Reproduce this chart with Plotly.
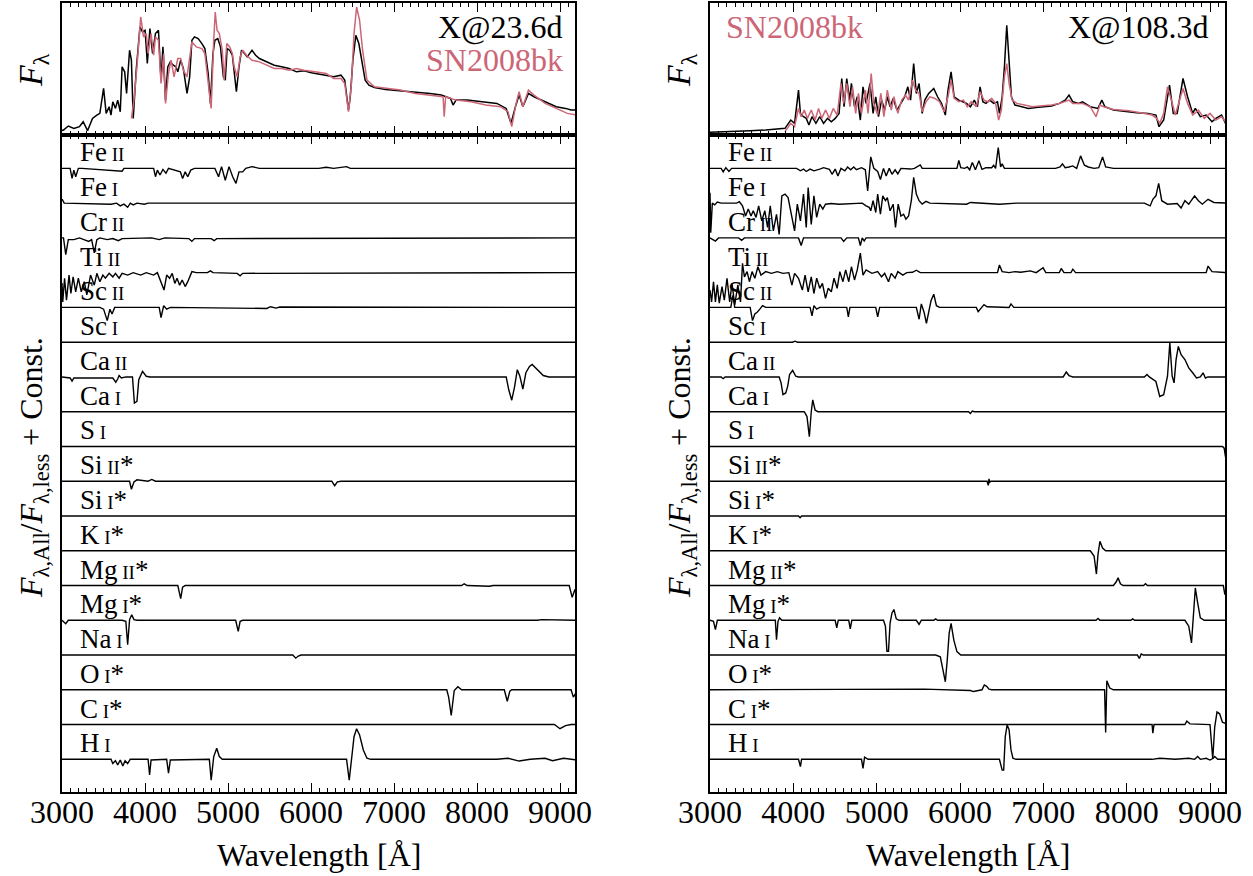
import plotly.graph_objects as go

# ---------------------------------------------------------------- data
# Top panels: model spectrum vs. observed SN 2008bk (wavelength [A], flux, arbitrary units)
MODEL_23D = [(3000, 8), (3018, 10), (3076, 22), (3143, 15), (3210, 20), (3255, 35), (3308, 8), (3367, 45),
             (3420, 55), (3456, 60), (3501, 135), (3532, 60), (3568, 80), (3590, 55), (3612, 95), (3644, 75),
             (3671, 100), (3702, 65), (3724, 200), (3755, 185), (3778, 120), (3814, 250), (3836, 220),
             (3858, 45), (3894, 190), (3939, 320), (3970, 305), (4001, 310), (4028, 210), (4059, 315),
             (4091, 240), (4126, 300), (4162, 310), (4193, 160), (4216, 260), (4247, 100), (4274, 200),
             (4305, 215), (4341, 205), (4372, 200), (4395, 185), (4430, 220), (4462, 195), (4506, 120),
             (4538, 170), (4565, 280), (4596, 290), (4640, 285), (4685, 270), (4721, 255), (4761, 180),
             (4788, 90), (4819, 240), (4842, 280), (4877, 285), (4909, 260), (4944, 170), (4967, 160),
             (4989, 255), (5020, 250), (5052, 235), (5079, 170), (5101, 125), (5132, 200), (5163, 250),
             (5199, 240), (5231, 230), (5289, 250), (5333, 235), (5378, 225), (5467, 215), (5557, 205),
             (5646, 200), (5736, 195), (5825, 185), (5914, 188), (6004, 182), (6093, 178), (6183, 175),
             (6272, 170), (6361, 175), (6406, 160), (6451, 70), (6473, 110), (6504, 220), (6540, 295),
             (6576, 270), (6607, 220), (6652, 160), (6697, 145), (6764, 138), (6898, 132), (7077, 128),
             (7255, 125), (7434, 120), (7568, 115), (7613, 110), (7680, 105), (7711, 85), (7747, 100),
             (7881, 100), (8060, 95), (8239, 90), (8351, 75), (8409, 30), (8462, 80), (8507, 115),
             (8552, 80), (8619, 120), (8686, 110), (8820, 95), (8954, 80), (9066, 75), (9133, 70), (9200, 70)]

SN2008BK_EARLY = [(3836, 45), (3867, 100), (3903, 200), (3948, 350), (3983, 290), (4015, 300), (4037, 240),
                  (4073, 300), (4104, 235), (4126, 290), (4162, 280), (4193, 150), (4225, 240), (4247, 90),
                  (4283, 180), (4314, 220), (4350, 170), (4395, 225), (4430, 225), (4462, 190), (4506, 170),
                  (4538, 220), (4565, 275), (4618, 260), (4685, 255), (4721, 240), (4761, 160), (4797, 75),
                  (4828, 280), (4846, 365), (4868, 310), (4895, 300), (4931, 250), (4953, 160), (4985, 270),
                  (5020, 260), (5052, 240), (5074, 200), (5110, 170), (5146, 230), (5177, 250), (5222, 235),
                  (5289, 220), (5378, 215), (5467, 205), (5557, 195), (5646, 195), (5736, 190), (5825, 195),
                  (5914, 190), (6049, 185), (6183, 180), (6272, 165), (6361, 165), (6406, 150), (6451, 65),
                  (6487, 150), (6518, 300), (6549, 380), (6585, 340), (6621, 250), (6674, 160), (6764, 140),
                  (6898, 135), (7077, 130), (7255, 120), (7434, 115), (7591, 110), (7604, 50), (7622, 110),
                  (7747, 100), (7926, 95), (8105, 85), (8284, 80), (8373, 65), (8418, 20), (8471, 90),
                  (8507, 125), (8552, 80), (8619, 130), (8686, 115), (8820, 90), (8954, 75), (9088, 60),
                  (9200, 55)]

MODEL_108D = [(3000, 3), (3343, 5), (3482, 8), (3668, 10), (3760, 12), (3900, 15), (3969, 40), (4015, 30),
              (4062, 130), (4085, 60), (4122, 50), (4155, 45), (4187, 25), (4224, 50), (4271, 30), (4317, 50),
              (4363, 30), (4410, 45), (4456, 35), (4502, 45), (4549, 60), (4581, 165), (4609, 80), (4641, 165),
              (4674, 100), (4697, 150), (4734, 80), (4767, 110), (4804, 40), (4836, 140), (4873, 90),
              (4920, 150), (4957, 60), (4989, 110), (5022, 50), (5059, 100), (5096, 70), (5128, 110),
              (5161, 80), (5198, 105), (5244, 70), (5291, 90), (5337, 110), (5374, 140), (5407, 100),
              (5444, 210), (5476, 120), (5509, 150), (5546, 60), (5578, 100), (5624, 120), (5685, 135),
              (5731, 110), (5778, 90), (5824, 55), (5856, 130), (5893, 185), (5930, 110), (5986, 100),
              (6033, 95), (6079, 90), (6125, 80), (6172, 100), (6209, 80), (6241, 140), (6274, 95),
              (6311, 90), (6357, 100), (6404, 90), (6450, 95), (6473, 60), (6506, 110), (6533, 200),
              (6561, 325), (6589, 200), (6617, 110), (6659, 85), (6728, 80), (6821, 75), (6914, 78),
              (7006, 80), (7099, 82), (7192, 90), (7262, 100), (7308, 115), (7354, 95), (7424, 90),
              (7470, 95), (7563, 80), (7656, 75), (7702, 100), (7739, 80), (7841, 70), (7980, 65),
              (8119, 62), (8258, 60), (8351, 55), (8388, 20), (8444, 40), (8514, 145), (8560, 60),
              (8606, 60), (8676, 165), (8731, 110), (8792, 60), (8824, 75), (8884, 50), (8954, 55),
              (9024, 35), (9070, 45), (9139, 55), (9186, 30)]

SN2008BK_LATE = [(3900, 5), (3969, 30), (4015, 20), (4062, 75), (4094, 50), (4131, 70), (4169, 45),
                 (4215, 70), (4261, 40), (4303, 75), (4340, 45), (4387, 70), (4433, 45), (4479, 75),
                 (4526, 55), (4572, 150), (4604, 90), (4641, 150), (4679, 80), (4711, 140), (4748, 60),
                 (4781, 120), (4818, 60), (4864, 130), (4897, 60), (4934, 180), (4966, 90), (5012, 55),
                 (5050, 120), (5087, 50), (5128, 130), (5175, 70), (5207, 110), (5254, 60), (5300, 100),
                 (5346, 115), (5383, 100), (5430, 160), (5467, 130), (5509, 120), (5546, 65), (5592, 95),
                 (5639, 110), (5699, 105), (5754, 95), (5810, 65), (5856, 110), (5893, 160), (5930, 105),
                 (5986, 95), (6042, 100), (6088, 80), (6135, 95), (6195, 80), (6241, 125), (6288, 100),
                 (6334, 95), (6380, 105), (6427, 90), (6464, 40), (6496, 70), (6533, 170), (6561, 210),
                 (6589, 150), (6626, 100), (6682, 90), (6774, 85), (6867, 80), (6960, 82), (7099, 85),
                 (7192, 90), (7262, 95), (7308, 100), (7354, 90), (7470, 90), (7563, 80), (7632, 50),
                 (7679, 85), (7725, 80), (7841, 72), (8026, 68), (8166, 62), (8305, 55), (8360, 45),
                 (8397, 30), (8444, 60), (8490, 140), (8537, 100), (8583, 55), (8629, 95), (8676, 135),
                 (8731, 90), (8792, 55), (8861, 70), (8931, 45), (9000, 60), (9070, 40), (9139, 50),
                 (9186, 35)]

# Species order (top to bottom) and their label parts: element, ionisation stage, flag
SPECIES = [("Fe", "II", ""), ("Fe", "I", ""), ("Cr", "II", ""), ("Ti", "II", ""), ("Sc", "II", ""),
           ("Sc", "I", ""), ("Ca", "II", ""), ("Ca", "I", ""), ("S", "I", ""), ("Si", "II", "*"),
           ("Si", "I", "*"), ("K", "I", "*"), ("Mg", "II", "*"), ("Mg", "I", "*"), ("Na", "I", ""),
           ("O", "I", "*"), ("C", "I", "*"), ("H", "I", "")]

FLAT = [(3000, 0), (9200, 0)]

# Flux ratio F_All / F_less minus one, per species, epoch 23.6 d
RATIO_23D = [
    [(3000, 0), (3098, 0), (3121, -0.29), (3143, -0.05), (3165, -0.24), (3197, 0), (3241, 0), (3724, -0.08),
     (3746, 0), (4104, 0), (4126, -0.24), (4149, -0.05), (4180, -0.19), (4216, -0.03), (4252, -0.14),
     (4283, 0), (4426, -0.1), (4453, -0.29), (4484, -0.1), (4515, -0.24), (4551, -0.05), (4596, 0),
     (4842, 0), (4886, -0.24), (4922, 0.05), (4967, -0.34), (5012, 0.05), (5056, -0.24), (5096, -0.43),
     (5132, -0.1), (5177, -0.1), (5213, 0), (5289, 0.05), (5378, 0), (6093, 0), (6183, 0.03), (6272, 0),
     (6428, 0.05), (6473, 0), (7658, 0.02), (7747, 0), (9200, 0)],
    [(3000, 0.12), (3027, 0), (3590, -0.03), (3657, 0), (3702, -0.08), (3746, -0.03), (3791, -0.12),
     (3823, 0), (3858, -0.05), (3903, 0), (3992, -0.03), (4037, 0), (9200, 0)],
    [(3000, 0), (3018, 0), (3045, -0.48), (3076, -0.05), (3143, -0.05), (3210, 0), (3321, -0.1),
     (3357, -0.05), (3389, -0.43), (3420, -0.05), (3456, 0), (3545, -0.05), (3612, -0.02), (3679, -0.08),
     (3724, -0.02), (4081, 0), (4171, -0.05), (4238, 0), (4528, -0.02), (4564, -0.1), (4596, -0.02),
     (4797, -0.02), (4833, -0.08), (4864, -0.02), (9200, 0)],
    [(3000, -0.3), (3009, -0.84), (3031, -0.16), (3054, -0.79), (3085, -0.07), (3107, -0.6), (3134, -0.12),
     (3165, -0.55), (3197, -0.16), (3232, -0.55), (3268, -0.26), (3299, -0.64), (3344, -0.07),
     (3389, -0.36), (3420, -0.02), (3456, -0.26), (3492, -0.07), (3523, -0.16), (3568, -0.02),
     (3612, -0.12), (3644, -0.02), (3688, -0.16), (3724, -0.02), (3791, -0.07), (3858, 0), (3948, -0.07),
     (4015, 0), (4104, -0.07), (4149, 0), (4193, -0.26), (4229, -0.5), (4261, -0.07), (4296, -0.16),
     (4328, -0.02), (4359, -0.31), (4386, -0.16), (4417, -0.36), (4448, -0.21), (4484, -0.4),
     (4515, -0.26), (4542, -0.12), (4565, 0.03), (4618, 0), (4752, 0), (4788, 0.05), (4819, 0),
     (5110, -0.02), (5146, -0.09), (5177, -0.02), (9200, 0)],
    [(3000, 0), (3456, 0), (3501, -0.05), (3545, -0.38), (3577, -0.05), (3603, -0.19), (3635, 0), (4171, 0),
     (4193, -0.29), (4225, 0.05), (4261, -0.05), (4305, 0), (5467, -0.03), (5512, 0.02), (5579, -0.02),
     (5624, 0.01), (9200, 0)],
    FLAT,
    [(3000, 0), (3098, -0.03), (3121, -0.12), (3143, -0.03), (3612, -0.03), (3648, -0.15), (3671, -0.06),
     (3688, 0.04), (3715, -0.03), (3769, 0), (3849, 0), (3872, -0.75), (3903, -0.7), (3925, -0.08),
     (3970, 0.16), (4015, 0.02), (4059, 0), (8351, 0), (8382, -0.37), (8418, -0.67), (8453, -0.27),
     (8485, 0.21), (8516, 0.02), (8552, -0.35), (8588, 0.12), (8632, 0.3), (8664, 0.36), (8722, 0.21),
     (8798, 0.04), (8865, 0), (9200, 0)],
    FLAT,
    FLAT,
    [(3000, 0), (3814, 0), (3836, -0.23), (3867, -0.02), (3903, 0.04), (4037, 0), (4082, 0.05), (4126, 0),
     (6250, 0), (6285, -0.13), (6317, -0.02), (6361, 0), (9200, 0)],
    FLAT,
    FLAT,
    [(3000, 0), (4395, 0), (4430, -0.38), (4453, -0.05), (4484, 0), (7814, 0), (7845, 0.05), (7881, 0),
     (8149, -0.02), (8194, 0), (9110, 0), (9146, -0.34), (9177, -0.13), (9200, -0.1)],
    [(3000, 0), (3045, -0.1), (3076, 0), (3724, 0), (3769, -0.03), (3791, -0.7), (3814, 0.02), (3840, 0.16),
     (3867, 0.02), (3903, 0), (5092, 0), (5123, -0.32), (5146, -0.03), (5177, 0), (8731, 0), (8775, 0.02),
     (9200, 0)],
    [(3000, 0), (5780, 0), (5816, -0.09), (5847, -0.03), (5879, 0), (9200, 0)],
    [(3000, 0), (7635, 0), (7658, -0.21), (7689, -0.74), (7725, -0.02), (7769, 0.09), (7814, 0), (8328, 0),
     (8364, -0.33), (8395, -0.04), (8418, 0), (9133, 0), (9160, -0.21), (9200, -0.05)],
    [(3000, 0), (8932, 0), (8999, -0.12), (9066, -0.03), (9133, 0), (9200, 0)],
    [(3000, 0), (3590, 0), (3612, -0.12), (3644, -0.04), (3671, -0.16), (3702, -0.02), (3733, -0.19),
     (3760, -0.04), (3791, -0.12), (3822, 0), (4037, 0), (4055, -0.45), (4073, -0.02), (4261, 0),
     (4283, -0.4), (4305, -0.02), (4775, 0), (4797, -0.6), (4828, 0.08), (4864, 0.32), (4895, 0.08),
     (4931, 0), (6428, 0), (6460, -0.6), (6487, -0.02), (6518, 0.65), (6549, 0.88), (6585, 0.7),
     (6630, 0.27), (6674, 0.03), (6719, 0), (8239, 0), (8373, 0.03), (8507, -0.05), (8641, 0),
     (8820, 0.03), (8909, -0.04), (9043, 0.03), (9200, -0.02)],
]

# Same, epoch 108.3 d
RATIO_108D = [
    [(3000, 0), (3134, 0), (3158, -0.1), (3190, 0.02), (3227, -0.09), (3260, 0), (4039, 0), (4085, -0.07),
     (4122, -0.02), (4155, -0.09), (4201, -0.02), (4247, -0.07), (4317, -0.02), (4363, 0.02), (4433, -0.03),
     (4465, -0.17), (4502, -0.02), (4535, -0.22), (4572, 0), (4618, -0.07), (4651, 0.04), (4688, -0.04),
     (4725, 0.04), (4757, -0.04), (4818, 0.02), (4864, -0.04), (4892, -0.65), (4929, 0.33), (4966, 0),
     (5012, -0.09), (5045, -0.32), (5082, 0), (5114, -0.22), (5151, 0), (5184, -0.17), (5221, -0.04),
     (5254, -0.16), (5291, 0), (5407, -0.02), (5453, 0), (5523, 0.1), (5546, 0), (5963, 0), (5986, 0.23),
     (6009, 0.02), (6056, 0), (6088, 0.04), (6116, -0.04), (6148, 0.17), (6185, -0.04), (6227, 0.22),
     (6264, -0.03), (6311, 0.02), (6380, 0.02), (6404, 0.09), (6427, 0), (6459, 0.6), (6487, 0.04),
     (6506, 0.13), (6533, 0), (7146, 0), (7201, 0.04), (7229, 0.13), (7262, 0.02), (7308, 0.04),
     (7354, 0.07), (7400, 0), (7447, 0.36), (7493, 0.09), (7539, 0.04), (7609, 0), (7665, 0.02),
     (7711, 0.33), (7748, 0.04), (7795, 0.02), (7841, 0), (9200, 0)],
    [(3000, 0.3), (3009, -0.85), (3028, 0), (3056, -0.05), (3088, 0.03), (3134, 0), (3320, 0), (3352, 0.04),
     (3390, -0.08), (3427, -0.37), (3459, -0.17), (3492, -0.37), (3519, -0.22), (3552, -0.41),
     (3584, -0.08), (3621, -0.51), (3658, -0.22), (3691, -0.7), (3723, -0.08), (3760, -0.8), (3798, -0.32),
     (3830, -0.9), (3862, 0.21), (3900, 0.26), (3937, 0.16), (3983, -0.41), (4015, -0.8), (4048, -0.03),
     (4085, -0.51), (4122, 0.26), (4155, -0.7), (4178, 0.45), (4215, -0.61), (4247, 0.21), (4280, -0.41),
     (4317, -0.03), (4354, -0.17), (4386, -0.03), (4456, -0.01), (4549, -0.03), (4827, 0), (4873, -0.08),
     (4910, -0.12), (4929, -0.22), (4957, 0.07), (4989, -0.27), (5012, 0.26), (5045, -0.32), (5073, 0.21),
     (5105, 0.07), (5128, 0.16), (5161, -0.22), (5198, -0.03), (5226, -0.7), (5258, -0.03), (5291, -0.37),
     (5323, -0.32), (5351, -0.46), (5383, -0.37), (5416, 0.07), (5444, 0.74), (5476, 0.26), (5509, 0.07),
     (5546, -0.03), (5592, 0.05), (5638, 0), (6079, -0.03), (6125, 0.02), (6473, -0.03), (6680, 0),
     (8212, 0), (8282, -0.08), (8314, 0.11), (8351, 0.21), (8384, 0.57), (8421, 0.07), (8490, -0.03),
     (8606, -0.01), (8653, -0.14), (8699, 0.07), (8745, -0.03), (8815, 0.21), (8861, 0.07), (8908, -0.03),
     (8977, 0.11), (9047, 0.02), (9200, 0)],
    [(3000, 0), (3065, -0.09), (3102, 0), (3343, 0), (3380, -0.07), (3413, 0), (4062, 0), (4094, -0.22),
     (4122, 0), (4572, 0), (4604, -0.1), (4641, 0), (4781, 0), (4804, -0.22), (4827, 0), (4850, -0.09),
     (4873, 0), (9200, 0)],
    [(3000, -0.5), (3019, -0.84), (3042, -0.26), (3065, -0.84), (3088, -0.35), (3111, -0.88), (3144, -0.4),
     (3172, -0.79), (3204, -0.16), (3236, -0.84), (3264, -0.31), (3297, -0.93), (3334, -0.35),
     (3366, -0.84), (3390, 0.27), (3413, -0.12), (3445, 0.03), (3473, -0.26), (3505, 0.03), (3538, -0.16),
     (3575, 0.17), (3612, -0.07), (3668, 0.03), (3737, -0.02), (3807, 0.03), (3876, -0.02), (3946, 0),
     (3983, -0.36), (4015, -0.02), (4062, -0.16), (4108, -0.5), (4141, -0.07), (4178, -0.55),
     (4215, -0.12), (4247, -0.6), (4280, -0.16), (4317, -0.45), (4349, -0.31), (4386, -0.74),
     (4419, -0.45), (4456, -0.55), (4488, -0.16), (4526, -0.45), (4558, 0.03), (4595, -0.26), (4628, 0.08),
     (4665, -0.26), (4697, 0.17), (4734, -0.21), (4767, 0.08), (4804, 0.56), (4836, -0.07), (4873, 0.08),
     (4943, -0.02), (5012, 0.03), (5059, -0.12), (5096, -0.02), (5142, -0.26), (5175, -0.02),
     (5221, -0.16), (5254, 0.03), (5314, -0.07), (5360, 0), (5430, 0.01), (5476, 0.07), (5523, 0),
     (6450, 0), (6473, 0.22), (6506, 0.03), (6589, 0), (6659, 0.03), (6728, 0.01), (6844, 0.05), (6914, 0),
     (6997, 0.14), (7030, 0), (7192, 0), (7215, 0.12), (7248, 0), (7331, 0), (7354, 0.1), (7387, 0),
     (8954, 0), (8977, 0.19), (9024, 0.03), (9200, 0)],
    [(3000, 0), (3250, 0), (3274, 0.35), (3297, 0), (3482, 0), (3510, -0.38), (3538, -0.19), (3566, -0.14),
     (3598, -0.05), (3631, 0.05), (3668, 0), (4201, 0), (4224, -0.24), (4247, 0.05), (4280, -0.05),
     (4317, 0), (4641, 0), (4660, -0.27), (4679, 0), (4989, 0), (5012, -0.27), (5036, 0), (5476, 0),
     (5509, -0.34), (5536, 0.1), (5569, -0.14), (5597, -0.46), (5625, -0.1), (5652, 0.19), (5685, 0.38),
     (5717, 0.05), (5754, 0), (6195, 0), (6218, -0.12), (6255, 0), (6288, 0.08), (6325, 0.02), (6589, 0),
     (6612, 0.1), (6645, 0), (9200, 0)],
    [(3000, 0), (3990, 0), (4020, 0.03), (4050, 0), (9200, 0)],
    [(3000, 0), (3134, 0), (3158, -0.05), (3181, 0), (3830, 0), (3853, -0.17), (3876, -0.51), (3909, -0.46),
     (3932, -0.27), (3955, 0.07), (3992, 0.19), (4029, 0.02), (4062, 0), (7238, 0), (7275, 0.14),
     (7308, 0.04), (7354, 0), (8212, 0), (8244, 0.07), (8272, 0), (8351, -0.13), (8397, -0.56),
     (8444, -0.51), (8490, 0.02), (8518, 0.98), (8546, 0.02), (8569, -0.17), (8593, 0.5), (8620, 0.88),
     (8653, 0.64), (8699, 0.5), (8745, 0.26), (8792, 0.12), (8838, -0.03), (8884, 0), (8917, 0.12),
     (8945, -0.03), (8977, 0), (9200, 0)],
    [(3000, 0), (4131, 0), (4164, -0.14), (4192, -0.72), (4215, 0), (4233, 0.34), (4261, 0.05), (4294, 0),
     (6102, 0), (6125, -0.05), (6148, 0.02), (6172, 0), (9200, 0)],
    [(3000, 0), (9150, 0), (9170, -0.05), (9186, -0.3), (9200, -0.35)],
    [(3000, 0), (6325, 0), (6339, -0.12), (6348, 0.07), (6357, -0.03), (6371, 0), (9200, 0)],
    [(3000, 0), (4062, 0), (4081, -0.05), (4099, 0), (9200, 0)],
    [(3000, 0), (7563, 0), (7609, -0.15), (7637, -0.67), (7656, -0.1), (7679, 0.27), (7711, 0.08),
     (7748, 0), (9200, 0)],
    [(3000, 0), (7841, 0), (7873, 0.1), (7897, 0.22), (7925, 0.05), (7957, 0), (8203, 0), (8226, 0.05),
     (8249, 0), (9160, 0), (9177, -0.24), (9200, -0.3)],
    [(3000, 0), (3042, -0.03), (3065, -0.27), (3088, 0), (3784, 0), (3798, -0.56), (3816, -0.03),
     (3835, 0.07), (3862, 0), (4502, 0), (4521, -0.22), (4539, 0), (4665, 0), (4683, -0.25), (4702, 0),
     (5082, 0), (5105, -0.17), (5123, -0.89), (5142, -0.89), (5161, -0.08), (5184, 0.21), (5207, 0.31),
     (5235, 0.04), (5267, 0), (5476, 0), (5509, -0.12), (5536, 0), (5685, 0), (5708, 0.04), (5731, 0),
     (7632, 0), (7656, 0.05), (7679, 0), (8050, 0), (8073, 0.04), (8096, 0), (8699, 0), (8745, -0.17),
     (8778, -0.65), (8801, 0.31), (8824, 0.93), (8852, 0.5), (8884, 0.07), (8931, 0), (9200, 0)],
    [(3000, 0), (5708, 0), (5764, -0.05), (5792, -0.43), (5824, -0.77), (5847, -0.14), (5870, 0.63),
     (5893, 0.91), (5926, 0.43), (5963, 0.1), (6009, 0), (8129, 0), (8152, -0.1), (8175, 0.03), (8203, 0),
     (9200, 0)],
    [(3000, 0), (5523, 0), (5569, 0.02), (6125, -0.02), (6162, -0.05), (6264, 0), (6292, 0.14),
     (6320, 0.1), (6348, 0.02), (6380, 0), (7735, 0), (7748, -1.23), (7762, 0.26), (7797, 0.05),
     (7841, 0), (9200, 0)],
    [(3000, 0), (8305, 0), (8314, -0.25), (8328, 0), (8699, 0), (8722, 0.1), (8759, 0.02), (9000, 0),
     (9033, -0.99), (9056, -0.08), (9084, 0.36), (9116, 0.31), (9149, 0.07), (9200, 0.02)],
    [(3000, 0), (4062, 0), (4085, -0.21), (4099, 0), (4818, 0), (4836, -0.26), (4855, 0.06), (4873, 0.03),
     (4897, 0), (6473, 0), (6506, -0.31), (6524, -0.31), (6543, 0.65), (6566, 0.99), (6589, 0.85),
     (6612, 0.27), (6635, 0.03), (6672, 0), (8305, 0), (8397, 0.03), (8583, 0), (8745, 0.03), (8815, 0),
     (8852, 0.08), (8884, 0), (8954, 0.03), (9000, -0.02), (9038, 0.03), (9056, 0.08), (9093, 0),
     (9200, 0)],
]

EPOCH_LEFT = "X@23.6d"
EPOCH_RIGHT = "X@108.3d"
OBJECT = "SN2008bk"
XTICKS = [3000, 4000, 5000, 6000, 7000, 8000, 9000]

# ---------------------------------------------------------------- style / layout
W, H = 1253, 876
SERIF = "Liberation Serif, Times New Roman, serif"
ROSE = "#CC6677"
INK = "black"

LEFT_DOM = [62 / W, 575 / W]
RIGHT_DOM = [710 / W, 1225 / W]
TOP_DOM = [1 - 135 / H, 1 - 3 / H]
BOT_DOM = [1 - 792 / H, 1 - 135 / H]
X_RANGE = [3000, 9180]
TOP_RANGE = [-5, 392]
BOT_RANGE = [-0.94, 17.96]


def split(pairs):
    return [p[0] for p in pairs], [p[1] for p in pairs]


fig = go.Figure()


def add_spectrum(pairs, color, xa, ya):
    x, y = split(pairs)
    fig.add_trace(go.Scatter(x=x, y=y, mode="lines", line=dict(color=color, width=1.5),
                             xaxis=xa, yaxis=ya, hoverinfo="skip", showlegend=False))


add_spectrum(MODEL_23D, INK, "x", "y")
add_spectrum(SN2008BK_EARLY, ROSE, "x", "y")
add_spectrum(MODEL_108D, INK, "x3", "y3")
add_spectrum(SN2008BK_LATE, ROSE, "x3", "y3")

n = len(SPECIES)
annotations = []
for ratios, xa, ya in ((RATIO_23D, "x2", "y2"), (RATIO_108D, "x4", "y4")):
    for i, pairs in enumerate(ratios):
        const = n - 1 - i
        x, d = split(pairs)
        fig.add_trace(go.Scatter(x=x, y=[const + v for v in d], mode="lines",
                                 line=dict(color=INK, width=1.4), xaxis=xa, yaxis=ya,
                                 hoverinfo="skip", showlegend=False))
        el, ion, flag = SPECIES[i]
        annotations.append(dict(
            x=3195, y=const + 0.46, xref=xa, yref=ya, xanchor="left", yanchor="middle",
            text=f"{el}<span style='font-size:19px'> {ion}</span>{flag}",
            showarrow=False, font=dict(family=SERIF, size=27, color=INK)))

big = dict(family=SERIF, size=32, color=INK)
# epoch / object labels in the spectrum panels
annotations += [
    dict(x=565 / W, y=1 - 27 / H, xref="paper", yref="paper", xanchor="right", yanchor="middle",
         text=EPOCH_LEFT, showarrow=False, font=big),
    dict(x=565 / W, y=1 - 60 / H, xref="paper", yref="paper", xanchor="right", yanchor="middle",
         text=OBJECT, showarrow=False, font=dict(family=SERIF, size=32, color=ROSE)),
    dict(x=724 / W, y=1 - 27 / H, xref="paper", yref="paper", xanchor="left", yanchor="middle",
         text=OBJECT, showarrow=False, font=dict(family=SERIF, size=32, color=ROSE)),
    dict(x=1211 / W, y=1 - 27 / H, xref="paper", yref="paper", xanchor="right", yanchor="middle",
         text=EPOCH_RIGHT, showarrow=False, font=big),
]
# axis titles
for cx in (33, 681):
    annotations.append(dict(x=cx / W, y=1 - 70 / H, xref="paper", yref="paper", xanchor="center",
                            yanchor="middle", textangle=-90, showarrow=False,
                            font=dict(family=SERIF, size=34, color=INK),
                            text="<i>F</i><sub>λ</sub>"))
    annotations.append(dict(x=cx / W, y=1 - 468 / H, xref="paper", yref="paper", xanchor="center",
                            yanchor="middle", textangle=-90, showarrow=False, font=big,
                            text="<i>F</i><sub>λ,All</sub>/<i>F</i><sub>λ,less</sub> + Const."))
for dom in (LEFT_DOM, RIGHT_DOM):
    annotations.append(dict(x=(dom[0] + dom[1]) / 2, y=1 - 855 / H, xref="paper", yref="paper",
                            xanchor="center", yanchor="middle", showarrow=False, font=big,
                            text="Wavelength [Å]"))

xstyle = dict(range=X_RANGE, showline=True, linewidth=2, linecolor=INK, mirror="allticks",
              ticks="inside", ticklen=9, tickwidth=1.3, tickcolor=INK, automargin=False,
              tickvals=XTICKS, ticktext=[str(v) for v in XTICKS], ticklabelstandoff=-9,
              minor=dict(ticks="inside", ticklen=4, tickwidth=1, tickcolor=INK, dtick=100, tick0=3000),
              showgrid=False, zeroline=False, tickfont=big)
ystyle = dict(showline=True, linewidth=2, linecolor=INK, mirror=True, ticks="", automargin=False,
              showticklabels=False, showgrid=False, zeroline=False)

fig.update_layout(
    width=W, height=H, margin=dict(l=0, r=0, t=0, b=0, autoexpand=False),
    paper_bgcolor="white", plot_bgcolor="white", showlegend=False,
    xaxis=dict(domain=LEFT_DOM, anchor="y", showticklabels=False, **xstyle),
    yaxis=dict(domain=TOP_DOM, anchor="x", range=TOP_RANGE, **ystyle),
    xaxis2=dict(domain=LEFT_DOM, anchor="y2", **xstyle),
    yaxis2=dict(domain=BOT_DOM, anchor="x2", range=BOT_RANGE, **ystyle),
    xaxis3=dict(domain=RIGHT_DOM, anchor="y3", showticklabels=False, **xstyle),
    yaxis3=dict(domain=TOP_DOM, anchor="x3", range=TOP_RANGE, **ystyle),
    xaxis4=dict(domain=RIGHT_DOM, anchor="y4", **xstyle),
    yaxis4=dict(domain=BOT_DOM, anchor="x4", range=BOT_RANGE, **ystyle),
    annotations=annotations,
)

fig.write_html("out.html")
